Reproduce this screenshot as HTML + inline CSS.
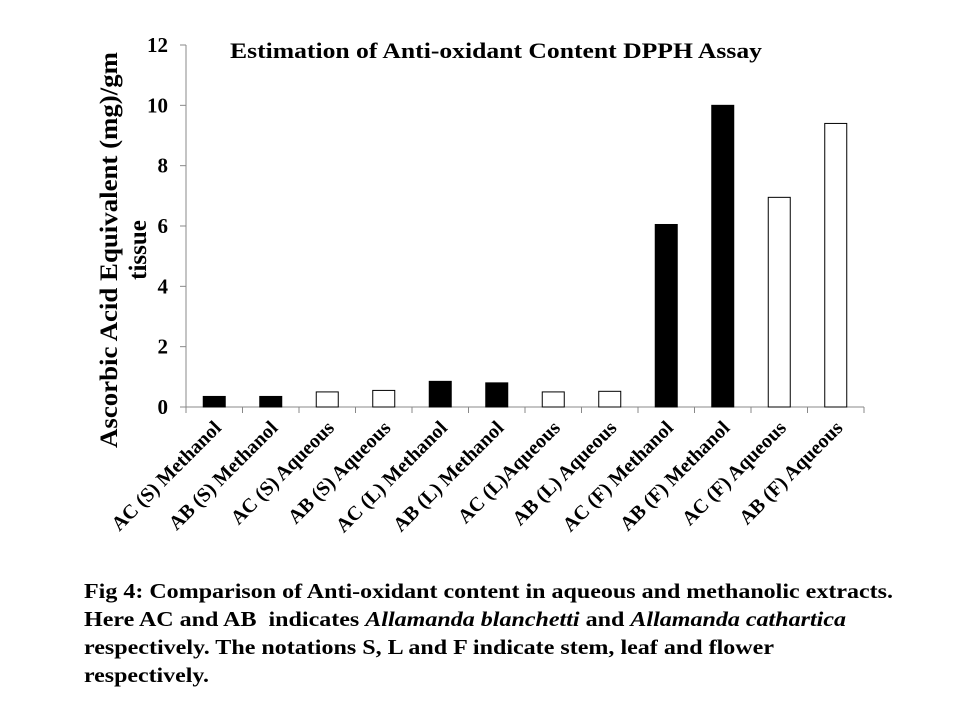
<!DOCTYPE html>
<html><head><meta charset="utf-8"><style>
body{margin:0;background:#fff;}
svg{display:block;font-family:"Liberation Serif",serif;font-weight:bold;}
</style></head><body>
<svg width="960" height="720" id="chart">
<text x="230" y="58" textLength="532" lengthAdjust="spacingAndGlyphs" font-size="22">Estimation of Anti-oxidant Content DPPH Assay</text>
<text transform="translate(117,250) rotate(-90)" text-anchor="middle" font-size="25"><tspan x="0" y="0" textLength="396" lengthAdjust="spacingAndGlyphs">Ascorbic Acid Equivalent (mg)/gm</tspan><tspan x="0" y="29">tissue</tspan></text>
<g id="g"></g>
<g font-size="21">
<text x="84" y="598" textLength="809" lengthAdjust="spacingAndGlyphs">Fig 4: Comparison of Anti-oxidant content in aqueous and methanolic extracts.</text>
<text x="84" y="626" textLength="762" lengthAdjust="spacingAndGlyphs">Here AC and AB&#160; indicates <tspan font-style="italic">Allamanda blanchetti</tspan> and <tspan font-style="italic">Allamanda cathartica</tspan></text>
<text x="84" y="654" textLength="690" lengthAdjust="spacingAndGlyphs">respectively. The notations S, L and F indicate stem, leaf and flower</text>
<text x="84" y="682" textLength="125" lengthAdjust="spacingAndGlyphs">respectively.</text>
</g>
</svg>
<script>
const categories=["AC (S) Methanol","AB (S) Methanol","AC (S) Aqueous","AB (S) Aqueous","AC (L) Methanol","AB (L) Methanol","AC (L)Aqueous","AB (L) Aqueous","AC (F) Methanol","AB (F) Methanol","AC (F) Aqueous","AB (F) Aqueous"];
const values=[0.35,0.35,0.5,0.55,0.85,0.8,0.5,0.52,6.05,10,6.95,9.4];
const filled=[1,1,0,0,1,1,0,0,1,1,0,0];
const yTicks=[0,2,4,6,8,10,12];
const NS="http://www.w3.org/2000/svg";
const g=document.getElementById('g');
const x0=186,y0=407,yTop=45,step=56.5,bw=22;
const ys=v=>y0-(v/12)*(y0-yTop);
const xc=i=>x0+step*(i+0.5);
function mk(t,a,p){const e=document.createElementNS(NS,t);for(const k in a)e.setAttribute(k,a[k]);(p||g).appendChild(e);return e;}
let ax=mk('path',{d:`M${x0} ${yTop}V${y0}H${x0+step*categories.length}`,stroke:'#888',fill:'none','stroke-width':1});


yTicks.forEach(v=>{
 mk('line',{x1:x0-6,x2:x0,y1:ys(v),y2:ys(v),stroke:'#888'});
 const t=mk('text',{x:x0-18,y:ys(v)+7,'text-anchor':'end','font-size':21});
 t.textContent=v;
 
 
});
for(let i=0;i<=categories.length;i++)mk('line',{x1:x0+step*i,x2:x0+step*i,y1:y0,y2:y0+6,stroke:'#888'});
categories.forEach((c,i)=>{
 const r=mk('rect',{x:xc(i)-bw/2,y:ys(values[i]),width:bw,height:y0-ys(values[i]),fill:filled[i]?'#000':'#fff',stroke:'#000','stroke-width':1});
 
 
 const t=mk('text',{'text-anchor':'end','font-size':20,transform:`translate(${xc(i)+8},${y0+22}) rotate(-45)`});
 t.textContent=c;
 
 
});
</script>
</body></html>
